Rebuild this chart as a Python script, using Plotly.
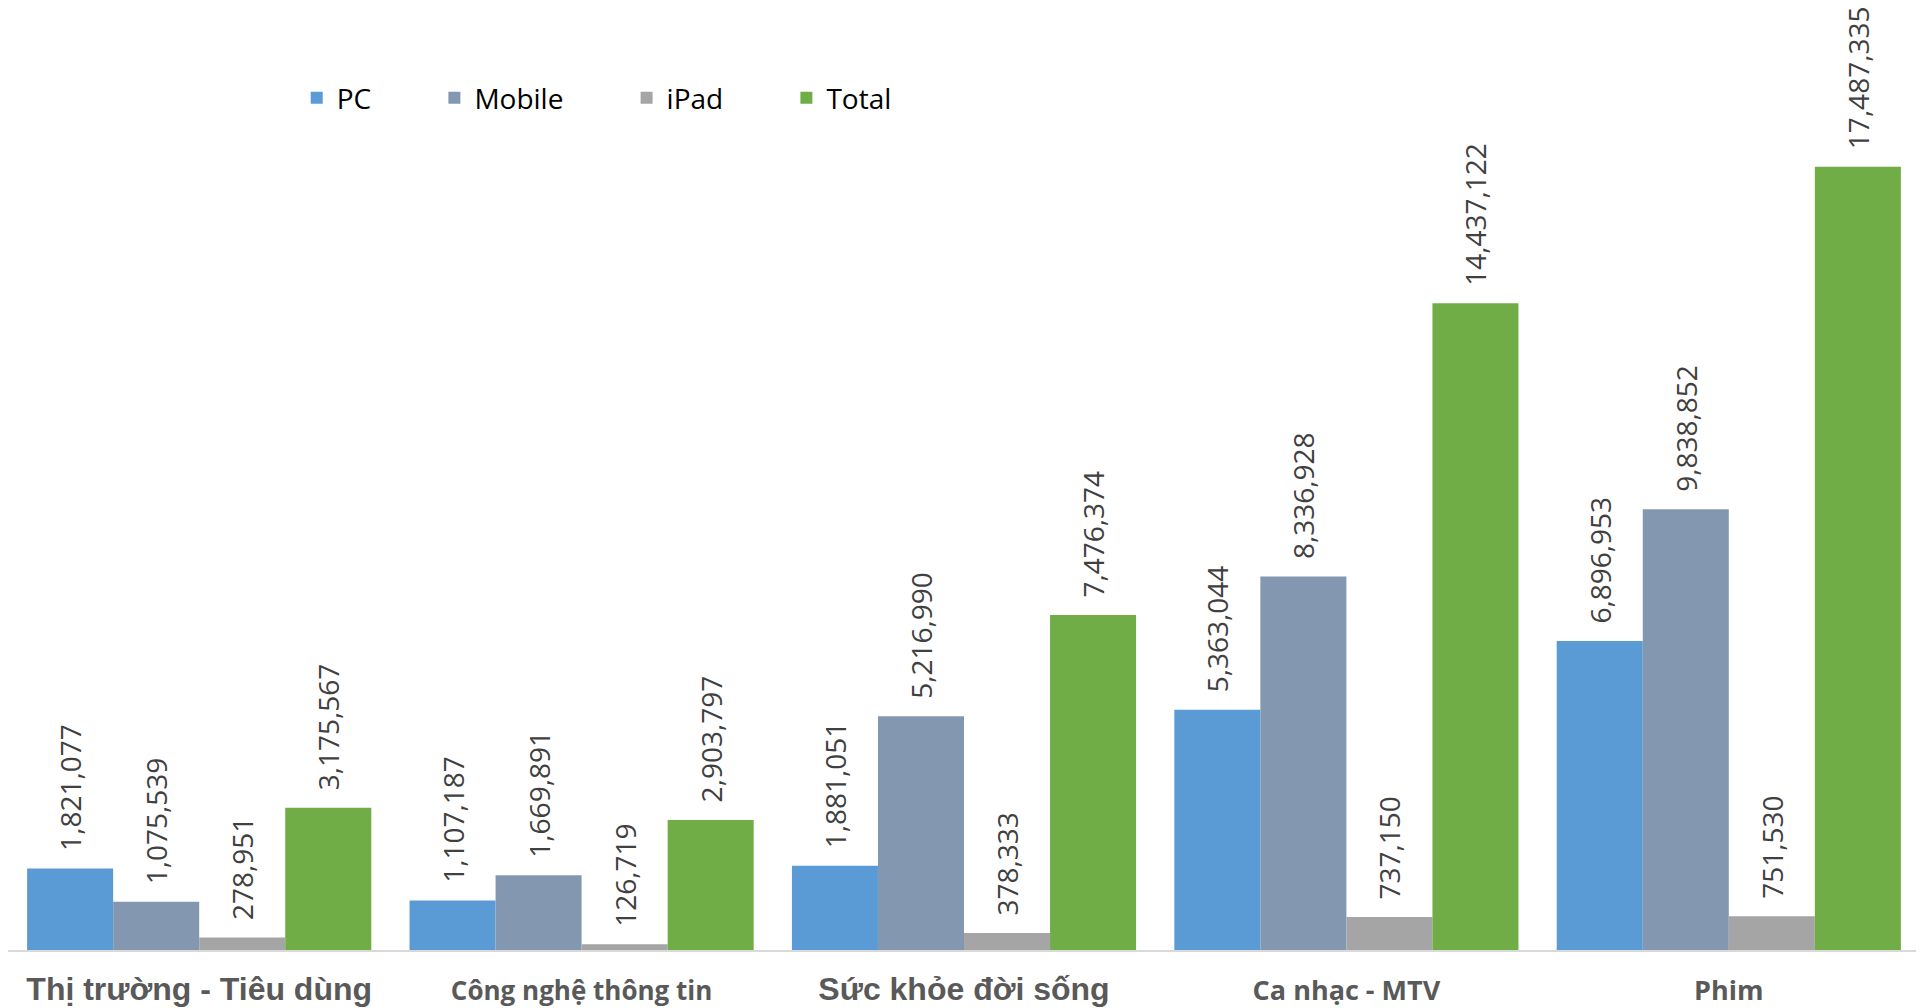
import plotly.graph_objects as go

categories = ["Thị trường - Tiêu dùng", "Công nghệ thông tin", "Sức khỏe đời sống", "Ca nhạc - MTV", "Phim"]
pc = [1821077, 1107187, 1881051, 5363044, 6896953]
mobile = [1075539, 1669891, 5216990, 8336928, 9838852]
ipad = [278951, 126719, 378333, 737150, 751530]
total = [3175567, 2903797, 7476374, 14437122, 17487335]

# tick labels use two different typefaces / sizes like the original
tick_text = [
    '<span style="font-family:Liberation Sans;font-size:32px"><b>Thị trường - Tiêu dùng</b></span>',
    '<span style="font-family:Open Sans;font-size:26px"><b>Công nghệ thông tin</b></span>',
    '<span style="font-family:Liberation Sans;font-size:32px"><b>Sức khỏe đời sống</b></span>',
    '<span style="font-family:Open Sans;font-size:27px"><b>Ca nhạc - MTV</b></span>',
    '<span style="font-family:Open Sans;font-size:27px"><b>Phim</b></span>',
]

series = [
    ("PC", pc, "#5b9bd5"),
    ("Mobile", mobile, "#8497b0"),
    ("iPad", ipad, "#a5a5a5"),
    ("Total", total, "#70ad47"),
]
pad = "\u00a0" * 8

fig = go.Figure()
for name, vals, color in series:
    fig.add_trace(go.Bar(
        x=categories, y=vals, name=name + pad,
        marker=dict(color=color, line=dict(width=0)),
        texttemplate="\u00a0\u00a0%{y:,.0f}",
        textposition="outside", textangle=-90, constraintext="none",
        cliponaxis=False,
        outsidetextfont=dict(family="Open Sans", size=28, color="#404040"),
    ))

# page body adds an 8px offset, so the figure is a bit smaller than the window
fig.update_layout(
    width=1912, height=1000,
    margin=dict(l=0, r=0, t=0, b=58),
    barmode="group", bargap=0.1, bargroupgap=0,
    plot_bgcolor="white", paper_bgcolor="white",
    font=dict(family="Open Sans", color="#595959"),
    legend=dict(orientation="h", x=0.151, y=0.9045, xanchor="left", yanchor="middle",
                font=dict(family="Open Sans", size=28, color="#000000"),
                bgcolor="rgba(0,0,0,0)"),
    xaxis=dict(tickmode="array", tickvals=categories, ticktext=tick_text,
               showline=True, linecolor="#d9d9d9", linewidth=2, ticks="",
               ticklabelstandoff=34, automargin=False,
               tickfont=dict(color="#595959"), showgrid=False),
    yaxis=dict(range=[0, 21.03e6], visible=False, showgrid=False),
)

fig.write_html("out.html")
